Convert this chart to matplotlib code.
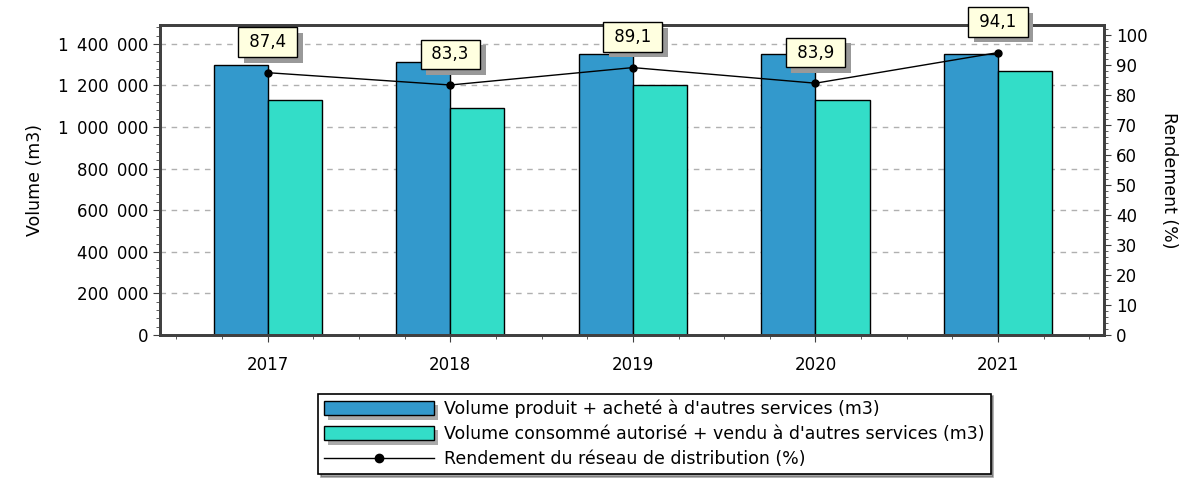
import numpy as np
import matplotlib.pyplot as plt
import matplotlib.patheffects as pe
from matplotlib.ticker import FixedLocator, MultipleLocator, FuncFormatter
from matplotlib.patches import Patch
from matplotlib.lines import Line2D

years = ['2017', '2018', '2019', '2020', '2021']
vol_produit = [1299000, 1313000, 1352000, 1352000, 1352000]
vol_consomme = [1130000, 1092000, 1203000, 1130000, 1270000]
rendement = [87.4, 83.3, 89.1, 83.9, 94.1]

BLUE = '#3399cc'
TEAL = '#33ddc8'
SPINE = '#404040'

plt.rcParams['font.family'] = 'DejaVu Sans'

fig = plt.figure(figsize=(11.94, 4.8), dpi=100)
ax = fig.add_axes([0.134, 0.302, 0.7906, 0.646])
x = np.arange(len(years))
w = 0.296
ax.bar(x - w / 2, vol_produit, w, color=BLUE, edgecolor='black', linewidth=1, zorder=2)
ax.bar(x + w / 2, vol_consomme, w, color=TEAL, edgecolor='black', linewidth=1, zorder=2)

ax.set_xlim(-0.59, 4.58)
ax.set_ylim(0, 1491000)
ax.yaxis.set_major_locator(MultipleLocator(200000))
ax.yaxis.set_minor_locator(MultipleLocator(40000))
# en space between groups of digits (wide spaces in the original)
ax.yaxis.set_major_formatter(FuncFormatter(lambda v, p: f'{int(v):,}'.replace(',', '\u2002')))
ax.set_xticks(x)
ax.set_xticklabels(years)
minor_x = [i + d for i in range(-1, 6) for d in (-0.25, 0.25, 0.5)]
ax.xaxis.set_minor_locator(FixedLocator(minor_x))
ax.grid(axis='y', linestyle=(0, (4, 4)), color='#b0b0b0', linewidth=1)
ax.set_axisbelow(True)
ax.set_ylabel('Volume (m3)', fontsize=12.5, labelpad=10)
ax.tick_params(axis='both', which='major', labelsize=12, length=5, color=SPINE)
ax.tick_params(axis='both', which='minor', length=3, color=SPINE)
ax.tick_params(axis='x', pad=10, labelsize=12)
for s in ax.spines.values():
    s.set_linewidth(2)
    s.set_color(SPINE)

ax2 = ax.twinx()
ax2.set_ylim(0, 103.3)
ax2.yaxis.set_major_locator(MultipleLocator(10))
ax2.yaxis.set_minor_locator(MultipleLocator(2))
ax2.tick_params(axis='y', which='major', labelsize=12, length=5, color=SPINE)
ax2.tick_params(axis='y', which='minor', length=3, color=SPINE)
ax2.set_ylabel('Rendement (%)', fontsize=12.5, rotation=270, labelpad=22)
for s in ax2.spines.values():
    s.set_linewidth(2)
    s.set_color(SPINE)
ax2.plot(x, rendement, color='black', linewidth=1, marker='o', markersize=5, zorder=3)

shadow = [pe.SimplePatchShadow(offset=(4, -4), shadow_rgbFace='#999999', alpha=1), pe.Normal()]
for i, v in enumerate(rendement):
    lab = f'{v:.1f}'.replace('.', ',')
    t = ax2.annotate(' ' + lab + ' ', xy=(i, v), xytext=(0, 22), textcoords='offset points',
                     ha='center', va='center', fontsize=12, color='black',
                     bbox=dict(boxstyle='square,pad=0.35', fc='#ffffe0', ec='black', lw=1),
                     zorder=5)
    t.get_bbox_patch().set_path_effects(shadow)

handles = [Patch(facecolor=BLUE, edgecolor='black'),
           Patch(facecolor=TEAL, edgecolor='black'),
           Line2D([0], [0], color='black', marker='o', markersize=6, linewidth=1)]
labels = ['Volume produit + acheté à d\'autres services (m3)',
          'Volume consommé autorisé + vendu à d\'autres services (m3)',
          'Rendement du réseau de distribution (%)']
leg = fig.legend(handles, labels, loc='center', bbox_to_anchor=(0.548, 0.096),
                 fontsize=12.5, frameon=True, fancybox=False, shadow=True,
                 handlelength=6.3, handleheight=0.9, labelspacing=0.4,
                 borderpad=0.35, handletextpad=0.6)
leg.get_frame().set_edgecolor('black')
leg.get_frame().set_linewidth(1.2)
for h in leg.legend_handles[:2]:
    h.set_path_effects([pe.SimplePatchShadow(offset=(3, -3), shadow_rgbFace='#aaaaaa', alpha=1),
                        pe.Normal()])

fig.savefig('out.png', dpi=100)
